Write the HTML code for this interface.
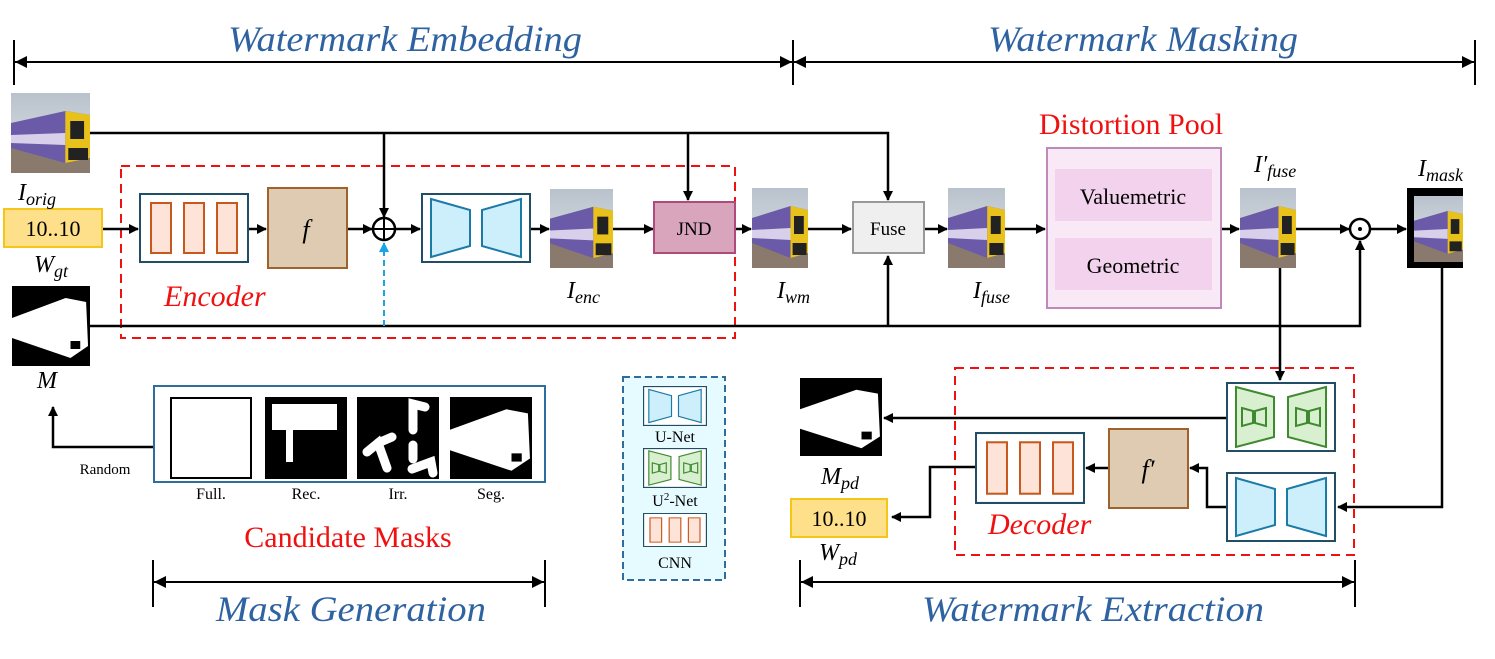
<!DOCTYPE html>
<html><head><meta charset="utf-8"><style>
html,body{margin:0;padding:0;background:#fff}
svg{display:block}
.t{font-family:"Liberation Serif",serif}
.it{font-family:"Liberation Serif",serif;font-style:italic}
</style></head><body>
<svg width="1495" height="659" viewBox="0 0 1495 659" xmlns="http://www.w3.org/2000/svg">
<defs>
<marker id="a" markerWidth="10" markerHeight="10" refX="9" refY="5" orient="auto" markerUnits="userSpaceOnUse"><path d="M0,0 L10,5 L0,10 z" fill="#000"/></marker>
<marker id="ab" markerWidth="10" markerHeight="10" refX="9" refY="5" orient="auto" markerUnits="userSpaceOnUse"><path d="M0,0 L10,5 L0,10 z" fill="#1aa6e6"/></marker>
<marker id="as" markerWidth="12" markerHeight="12" refX="12" refY="6" orient="auto-start-reverse" markerUnits="userSpaceOnUse"><path d="M0,0 L12,6 L0,12 z" fill="#000"/></marker>
<linearGradient id="sky" x1="0" y1="0" x2="0" y2="1"><stop offset="0" stop-color="#b9c2cc"/><stop offset="1" stop-color="#dfe3e8"/></linearGradient>
<symbol id="train" viewBox="0 0 80 80" preserveAspectRatio="none">
<rect width="80" height="80" fill="url(#sky)"/>
<rect y="55" width="80" height="25" fill="#8a7a6e"/>
<polygon points="0,30 55,18 80,22 80,65 55,70 0,55" fill="#6a5aa8"/>
<polygon points="0,42 55,40 55,52 0,50" fill="#d8d0ea"/>
<polygon points="55,18 80,22 80,65 55,70" fill="#e8c21a"/>
<rect x="60" y="28" width="14" height="18" fill="#222"/>
<rect x="58" y="55" width="20" height="12" fill="#222"/>
</symbol>
<symbol id="seg" viewBox="0 0 80 80" preserveAspectRatio="none">
<rect width="80" height="80" fill="#000"/>
<polygon points="0,32 55,12 76,16 78,60 60,72 0,52" fill="#fff"/>
<rect x="60" y="55" width="10" height="8" fill="#000"/>
</symbol>
<symbol id="unet" viewBox="0 0 110 70" preserveAspectRatio="none">
<rect x="1" y="1" width="108" height="68" fill="#fff" stroke="#1f4e66" stroke-width="2"/>
<polygon points="10,6 49,17 49,53 10,64" fill="#cdeefb" stroke="#1b7aa6" stroke-width="2"/>
<polygon points="100,6 61,17 61,53 100,64" fill="#cdeefb" stroke="#1b7aa6" stroke-width="2"/>
</symbol>
<symbol id="u2" viewBox="0 0 110 70" preserveAspectRatio="none">
<rect x="1" y="1" width="108" height="68" fill="#fff" stroke="#1f4e66" stroke-width="2"/>
<polygon points="10,5 48,15 48,55 10,65" fill="#d8f0d0" stroke="#3e8a2e" stroke-width="2"/>
<polygon points="100,5 62,15 62,55 100,65" fill="#d8f0d0" stroke="#3e8a2e" stroke-width="2"/>
<polygon points="16,26 27,29 27,41 16,44" fill="none" stroke="#3e8a2e" stroke-width="2"/>
<polygon points="40,26 29,29 29,41 40,44" fill="none" stroke="#3e8a2e" stroke-width="2"/>
<polygon points="70,26 81,29 81,41 70,44" fill="none" stroke="#3e8a2e" stroke-width="2"/>
<polygon points="94,26 83,29 83,41 94,44" fill="none" stroke="#3e8a2e" stroke-width="2"/>
</symbol>
<symbol id="cnn" viewBox="0 0 110 70" preserveAspectRatio="none">
<rect x="1" y="1" width="108" height="68" fill="#fff" stroke="#1f4e66" stroke-width="2"/>
<rect x="12" y="10" width="20" height="50" fill="#fde3d8" stroke="#c8581e" stroke-width="2"/>
<rect x="45" y="10" width="20" height="50" fill="#fde3d8" stroke="#c8581e" stroke-width="2"/>
<rect x="78" y="10" width="20" height="50" fill="#fde3d8" stroke="#c8581e" stroke-width="2"/>
</symbol>
</defs>

<g stroke="#000" stroke-width="2">
<line x1="14" y1="40" x2="14" y2="85"/><line x1="793" y1="40" x2="793" y2="85"/><line x1="1475" y1="40" x2="1475" y2="85"/>
<line x1="15" y1="62" x2="792" y2="62" marker-start="url(#as)" marker-end="url(#as)"/>
<line x1="794" y1="62" x2="1474" y2="62" marker-start="url(#as)" marker-end="url(#as)"/>
<line x1="153" y1="560" x2="153" y2="607"/><line x1="545" y1="560" x2="545" y2="607"/>
<line x1="154" y1="582" x2="544" y2="582" marker-start="url(#as)" marker-end="url(#as)"/>
<line x1="800" y1="560" x2="800" y2="607"/><line x1="1355" y1="560" x2="1355" y2="607"/>
<line x1="801" y1="582" x2="1354" y2="582" marker-start="url(#as)" marker-end="url(#as)"/>
</g>
<g class="it" fill="#2e62a0" font-size="36">
<text x="228" y="51" textLength="354" lengthAdjust="spacingAndGlyphs">Watermark Embedding</text>
<text x="988" y="51" textLength="310" lengthAdjust="spacingAndGlyphs">Watermark Masking</text>
<text x="216" y="621" textLength="270" lengthAdjust="spacingAndGlyphs">Mask Generation</text>
<text x="922" y="621" textLength="342" lengthAdjust="spacingAndGlyphs">Watermark Extraction</text>
</g>

<rect x="121" y="166" width="614" height="172" fill="none" stroke="#f01010" stroke-width="2" stroke-dasharray="9,6"/>
<rect x="955" y="368" width="399" height="187" fill="none" stroke="#f01010" stroke-width="2" stroke-dasharray="9,6"/>

<g stroke="#000" stroke-width="2.5" fill="none">
<polyline points="90,133 888,133 888,200" marker-end="url(#a)"/>
<line x1="384" y1="133" x2="384" y2="217" marker-end="url(#a)"/>
<line x1="688" y1="133" x2="688" y2="200" marker-end="url(#a)"/>
<line x1="102" y1="229" x2="138" y2="229" marker-end="url(#a)"/>
<line x1="249" y1="229" x2="266" y2="229" marker-end="url(#a)"/>
<line x1="347" y1="229" x2="372" y2="229" marker-end="url(#a)"/>
<line x1="395" y1="229" x2="420" y2="229" marker-end="url(#a)"/>
<line x1="531" y1="229" x2="549" y2="229" marker-end="url(#a)"/>
<line x1="613" y1="229" x2="653" y2="229" marker-end="url(#a)"/>
<line x1="735" y1="229" x2="751" y2="229" marker-end="url(#a)"/>
<line x1="808" y1="229" x2="851" y2="229" marker-end="url(#a)"/>
<line x1="924" y1="229" x2="947" y2="229" marker-end="url(#a)"/>
<line x1="1005" y1="229" x2="1045" y2="229" marker-end="url(#a)"/>
<line x1="1221" y1="229" x2="1239" y2="229" marker-end="url(#a)"/>
<line x1="1296" y1="229" x2="1349" y2="229" marker-end="url(#a)"/>
<line x1="1370" y1="229" x2="1406" y2="229" marker-end="url(#a)"/>
<polyline points="90,326 1360,326 1360,241" marker-end="url(#a)"/>
<line x1="888" y1="326" x2="888" y2="256" marker-end="url(#a)"/>
<line x1="1280" y1="268" x2="1280" y2="380" marker-end="url(#a)"/>
<polyline points="1442,268 1442,507 1338,507" marker-end="url(#a)"/>
<line x1="1226" y1="418" x2="884" y2="418" marker-end="url(#a)"/>
<polyline points="1226,507 1207,507 1207,468 1190,468" marker-end="url(#a)"/>
<line x1="1108" y1="468" x2="1086" y2="468" marker-end="url(#a)"/>
<polyline points="975,467 930,467 930,517 892,517" marker-end="url(#a)"/>
<polyline points="153,447 53,447 53,407" marker-end="url(#a)"/>
</g>
<line x1="384" y1="326" x2="384" y2="243" stroke="#1aa6e6" stroke-width="2" stroke-dasharray="6,4" marker-end="url(#ab)"/>

<circle cx="384" cy="229" r="11" fill="#fff" stroke="#000" stroke-width="2.5"/>
<line x1="373" y1="229" x2="395" y2="229" stroke="#000" stroke-width="2"/>
<line x1="384" y1="218" x2="384" y2="240" stroke="#000" stroke-width="2"/>
<circle cx="1360" cy="229" r="10" fill="#fff" stroke="#000" stroke-width="2.5"/>
<circle cx="1360" cy="229" r="2" fill="#000"/>

<use href="#train" x="11" y="93" width="79" height="80"/>
<use href="#seg" x="12" y="286" width="78" height="80"/>
<use href="#train" x="550" y="189" width="63" height="79"/>
<use href="#train" x="752" y="188" width="56" height="80"/>
<use href="#train" x="948" y="188" width="57" height="80"/>
<use href="#train" x="1240" y="188" width="56" height="80"/>
<rect x="1407" y="188" width="56" height="80" fill="#000"/>
<use href="#train" x="1414" y="196" width="49" height="66"/>
<use href="#seg" x="800" y="378" width="82" height="78"/>

<rect x="4" y="209" width="98" height="38" fill="#ffe08a" stroke="#f5c518" stroke-width="2"/>
<text x="53" y="236" class="t" font-size="22" text-anchor="middle">10..10</text>
<rect x="791" y="499" width="96" height="38" fill="#ffe08a" stroke="#f5c518" stroke-width="2"/>
<text x="839" y="526" class="t" font-size="22" text-anchor="middle">10..10</text>
<use href="#cnn" x="139" y="193" width="110" height="70"/>
<rect x="268" y="188" width="79" height="80" fill="#dfcab2" stroke="#a0622b" stroke-width="2"/>
<text x="306" y="238" class="it" font-size="26" text-anchor="middle">f</text>
<use href="#unet" x="421" y="193" width="110" height="70"/>
<rect x="654" y="202" width="81" height="51" fill="#d9a5bd" stroke="#b04a7a" stroke-width="2"/>
<text x="694" y="235" class="t" font-size="19" text-anchor="middle">JND</text>
<rect x="853" y="202" width="71" height="51" fill="#efefef" stroke="#999" stroke-width="2"/>
<text x="888" y="235" class="t" font-size="19" text-anchor="middle">Fuse</text>
<rect x="1047" y="148" width="174" height="160" fill="#f9e9f6" stroke="#c08ab8" stroke-width="2"/>
<rect x="1055" y="169" width="157" height="52" fill="#f2d2ec"/>
<rect x="1055" y="238" width="157" height="52" fill="#f2d2ec"/>
<text x="1133" y="204" class="t" font-size="22" text-anchor="middle">Valuemetric</text>
<text x="1133" y="273" class="t" font-size="22" text-anchor="middle">Geometric</text>
<text x="1131" y="134" class="t" font-size="30" fill="#f01010" text-anchor="middle">Distortion Pool</text>
<use href="#u2" x="1226" y="382" width="110" height="70"/>
<use href="#unet" x="1226" y="472" width="110" height="70"/>
<rect x="1109" y="429" width="79" height="79" fill="#dfcab2" stroke="#a0622b" stroke-width="2"/>
<text x="1148" y="478" class="it" font-size="26" text-anchor="middle">f′</text>
<use href="#cnn" x="975" y="432" width="110" height="72"/>

<g class="it" font-size="24">
<text x="18" y="200">I<tspan font-size="18" dy="5">orig</tspan></text>
<text x="34" y="272">W<tspan font-size="18" dy="5">gt</tspan></text>
<text x="37" y="388">M</text>
<text x="567" y="298">I<tspan font-size="18" dy="5">enc</tspan></text>
<text x="777" y="298">I<tspan font-size="18" dy="5">wm</tspan></text>
<text x="973" y="298">I<tspan font-size="18" dy="5">fuse</tspan></text>
<text x="1254" y="172">I′<tspan font-size="18" dy="5">fuse</tspan></text>
<text x="1418" y="176">I<tspan font-size="18" dy="5">mask</tspan></text>
<text x="821" y="484">M<tspan font-size="18" dy="5">pd</tspan></text>
<text x="819" y="560">W<tspan font-size="18" dy="5">pd</tspan></text>
</g>
<text x="164" y="306" class="it" font-size="30" fill="#f01010">Encoder</text>
<text x="988" y="534" class="it" font-size="30" fill="#f01010">Decoder</text>

<rect x="154" y="386" width="391" height="96" fill="#fff" stroke="#2e6e9e" stroke-width="2"/>
<rect x="171" y="398" width="80" height="80" fill="#fff" stroke="#000" stroke-width="2"/>
<rect x="265" y="397" width="82" height="82" fill="#000"/>
<rect x="272" y="404" width="65" height="26" fill="#fff"/>
<rect x="286" y="428" width="7" height="34" fill="#fff"/>
<rect x="357" y="397" width="82" height="82" fill="#000"/>
<g stroke="#fff" stroke-width="9" stroke-linecap="round" fill="none">
<polyline points="387,468 378,443 367,452"/><line x1="378" y1="443" x2="392" y2="437"/>
<polyline points="413,430 413,404 425,407"/><line x1="413" y1="445" x2="413" y2="459"/>
<polyline points="412,469 431,462 433,473"/>
</g>
<use href="#seg" x="450" y="397" width="82" height="82"/>
<g class="t" font-size="16" text-anchor="middle">
<text x="211" y="499">Full.</text><text x="306" y="499">Rec.</text><text x="398" y="499">Irr.</text><text x="491" y="499">Seg.</text>
</g>
<text x="105" y="474" class="t" font-size="15" text-anchor="middle">Random</text>
<text x="348" y="547" class="t" font-size="30" fill="#f01010" text-anchor="middle">Candidate Masks</text>

<rect x="623" y="377" width="102" height="203" fill="#e6fbff" stroke="#2e6e9e" stroke-width="2" stroke-dasharray="7,4"/>
<use href="#unet" x="643" y="386" width="64" height="40"/>
<use href="#u2" x="643" y="448" width="64" height="40"/>
<use href="#cnn" x="643" y="513" width="64" height="34"/>
<g class="t" font-size="16" text-anchor="middle">
<text x="675" y="442">U-Net</text>
<text x="675" y="506">U<tspan font-size="11" dy="-6">2</tspan><tspan dy="6">-Net</tspan></text>
<text x="675" y="568">CNN</text>
</g>
</svg>
</body></html>
